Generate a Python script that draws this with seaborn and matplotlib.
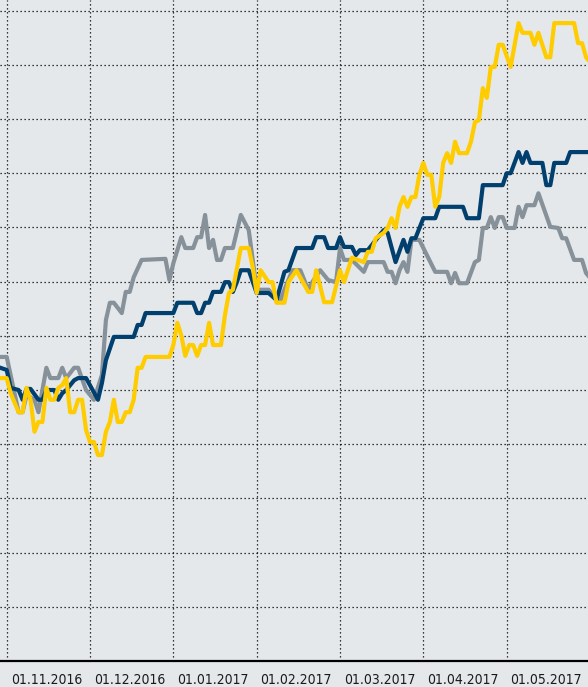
import pandas as pd
import matplotlib.pyplot as plt
import seaborn as sns

# month labels on the x axis (one label per month, 21 trading days each)
months = ['01.11.2016', '01.12.2016', '01.01.2017', '01.02.2017',
          '01.03.2017', '01.04.2017', '01.05.2017']
days_per_month = 21

# performance series (trading day, value)
gold_day = [-2, 0, 1, 3, 4, 5, 6, 7, 8, 9, 10, 11, 12, 13, 14, 15, 16, 17, 18, 19,
            20, 21, 22, 23, 24, 25, 26, 27, 28, 29, 30, 31, 32, 33, 34, 35, 41, 42,
            43, 44, 45, 46, 47, 48, 49, 50, 51, 52, 54, 55, 56, 57, 59, 61, 62, 63,
            64, 66, 67, 68, 70, 71, 73, 76, 77, 78, 80, 82, 84, 85, 87, 90, 91, 92,
            93, 95, 96, 97, 98, 99, 100, 101, 102, 103, 104, 105, 106, 107, 108,
            109, 110, 111, 112, 113, 114, 116, 117, 118, 119, 120, 121, 122, 123,
            124, 125, 127, 129, 130, 132, 133, 134, 136, 137, 138, 143, 144, 145,
            146, 147]
gold_val = [5.22, 5.22, 4.94, 4.59, 4.59, 5.04, 4.82, 4.23, 4.41, 4.41, 5.04, 4.82,
            4.82, 5.04, 5.09, 5.22, 4.59, 4.59, 4.82, 4.82, 4.26, 4.04, 4.04, 3.80,
            3.80, 4.23, 4.41, 4.82, 4.41, 4.41, 4.59, 4.59, 4.82, 5.41, 5.41, 5.61,
            5.61, 5.83, 6.24, 6.01, 5.63, 5.83, 5.83, 5.63, 5.83, 5.83, 6.24, 5.83,
            5.83, 6.38, 6.79, 6.85, 7.62, 7.62, 7.27, 6.79, 7.21, 6.99, 6.99, 6.61,
            6.61, 6.99, 7.21, 6.81, 6.81, 7.21, 6.62, 6.62, 7.21, 6.99, 7.44, 7.36,
            7.55, 7.55, 7.80, 7.90, 7.99, 8.17, 7.99, 8.38, 8.56, 8.38, 8.56, 8.56,
            8.97, 9.19, 8.97, 8.97, 8.38, 8.56, 9.19, 9.37, 9.19, 9.58, 9.37, 9.37,
            9.58, 9.94, 9.98, 10.57, 10.39, 10.96, 10.96, 11.37, 11.37, 10.96, 11.77,
            11.59, 11.59, 11.37, 11.59, 11.14, 11.14, 11.77, 11.77, 11.40, 11.40,
            11.14, 11.05]

navy_day = [-2, 0, 1, 3, 4, 5, 6, 8, 9, 10, 12, 13, 14, 15, 17, 18, 20, 23, 24, 25,
            27, 32, 33, 34, 35, 42, 43, 47, 48, 49, 50, 51, 52, 54, 55, 56, 57, 58,
            59, 61, 63, 66, 68, 70, 71, 73, 77, 78, 80, 81, 83, 84, 85, 87, 88, 89,
            91, 95, 96, 98, 100, 101, 102, 103, 105, 108, 109, 115, 116, 119, 120,
            125, 126, 127, 129, 130, 131, 132, 135, 136, 137, 138, 141, 142, 147]
navy_val = [5.42, 5.37, 5.04, 5.00, 4.82, 5.02, 5.02, 4.82, 4.82, 5.00, 5.00, 4.82,
            4.94, 5.00, 5.18, 5.22, 5.22, 4.82, 5.13, 5.55, 5.98, 5.98, 6.20, 6.20,
            6.42, 6.42, 6.61, 6.61, 6.42, 6.42, 6.61, 6.61, 6.81, 6.81, 6.99, 6.99,
            6.81, 6.99, 7.21, 7.21, 6.79, 6.79, 6.66, 7.18, 7.21, 7.62, 7.62, 7.82,
            7.82, 7.62, 7.62, 7.82, 7.64, 7.64, 7.49, 7.58, 7.58, 7.95, 7.90, 7.36,
            7.77, 7.55, 7.80, 7.80, 8.17, 8.17, 8.38, 8.38, 8.17, 8.17, 8.78, 8.78,
            9.00, 9.00, 9.39, 9.19, 9.39, 9.19, 9.19, 8.78, 8.78, 9.19, 9.19, 9.39,
            9.39]

grey_day = [-2, 0, 3, 4, 5, 7, 8, 10, 11, 13, 14, 15, 17, 18, 20, 22, 24, 25, 26, 27,
            29, 30, 31, 32, 34, 40, 41, 42, 44, 45, 47, 48, 49, 50, 51, 52, 53, 54,
            55, 57, 59, 61, 63, 66, 68, 69, 70, 72, 74, 76, 77, 79, 81, 83, 84, 85,
            87, 90, 91, 95, 96, 97, 98, 99, 100, 101, 102, 104, 105, 108, 111, 112,
            113, 114, 116, 118, 119, 120, 121, 122, 123, 124, 125, 126, 128, 129,
            130, 131, 133, 134, 137, 139, 140, 141, 143, 145, 146, 147]
grey_val = [5.61, 5.61, 4.59, 4.59, 4.91, 4.82, 4.59, 5.41, 5.22, 5.22, 5.41, 5.22,
            5.41, 5.41, 5.00, 4.82, 5.28, 6.29, 6.61, 6.61, 6.42, 6.81, 6.81, 7.08,
            7.40, 7.42, 7.03, 7.34, 7.82, 7.62, 7.62, 7.82, 7.82, 8.23, 7.62, 7.77,
            7.40, 7.40, 7.62, 7.62, 8.23, 7.95, 6.85, 6.85, 6.66, 6.66, 6.85, 7.21,
            7.21, 6.85, 6.99, 7.21, 7.03, 6.99, 7.62, 7.40, 7.40, 7.18, 7.36, 7.36,
            7.18, 7.18, 6.97, 7.21, 7.36, 7.18, 7.77, 7.77, 7.62, 7.18, 7.18, 6.97,
            7.16, 6.97, 6.97, 7.36, 7.40, 7.99, 7.99, 8.19, 7.99, 8.19, 8.19, 7.99,
            7.99, 8.38, 8.19, 8.41, 8.41, 8.63, 8.01, 7.99, 7.80, 7.80, 7.40, 7.40,
            7.16, 7.07]

frames = [
    pd.DataFrame({'day': grey_day, 'value': grey_val, 'series': 'grey'}),
    pd.DataFrame({'day': navy_day, 'value': navy_val, 'series': 'navy'}),
    pd.DataFrame({'day': gold_day, 'value': gold_val, 'series': 'gold'}),
]
df = pd.concat(frames, ignore_index=True)

bg = '#e4e8eb'
palette = {'grey': '#87919a', 'navy': '#003f6e', 'gold': '#ffcc00'}

sns.set_style('white', {'axes.facecolor': bg, 'figure.facecolor': bg})
plt.rcParams['font.family'] = ['DejaVu Sans']
plt.rcParams['font.stretch'] = 'condensed'

fig = plt.figure(figsize=(5.88, 6.87), dpi=100)
ax = fig.add_axes([0, 26 / 687, 1, 661 / 687])

sns.lineplot(data=df, x='day', y='value', hue='series',
             hue_order=['grey', 'navy', 'gold'], palette=palette,
             linewidth=3, legend=False, estimator=None, ax=ax)

# grid: month starts vertically, one unit horizontally
month_ticks = [i * days_per_month for i in range(len(months))]
ax.set_xticks(month_ticks)
ax.set_xticklabels([])
ax.set_xticks([t + 10 for t in month_ticks], minor=True)
ax.set_xticklabels(months, minor=True)
ax.set_yticks(range(13))
ax.set_yticklabels([])
ax.grid(True, which='major', color='black', linestyle=(0, (1, 2.2)), linewidth=0.9)
ax.set_axisbelow(True)

ax.set_xlim(-1.69, 146.5)
ax.set_ylim(0, 12.196)
ax.set_xlabel('')
ax.set_ylabel('')

ax.tick_params(which='both', length=0)
ax.tick_params(axis='x', which='minor', pad=9, labelsize=10, labelcolor='#1a1a1a')

for side in ['left', 'top', 'right']:
    ax.spines[side].set_visible(False)
ax.spines['bottom'].set_color('black')
ax.spines['bottom'].set_linewidth(1.6)

fig.savefig('out.png', dpi=100, facecolor=bg)
